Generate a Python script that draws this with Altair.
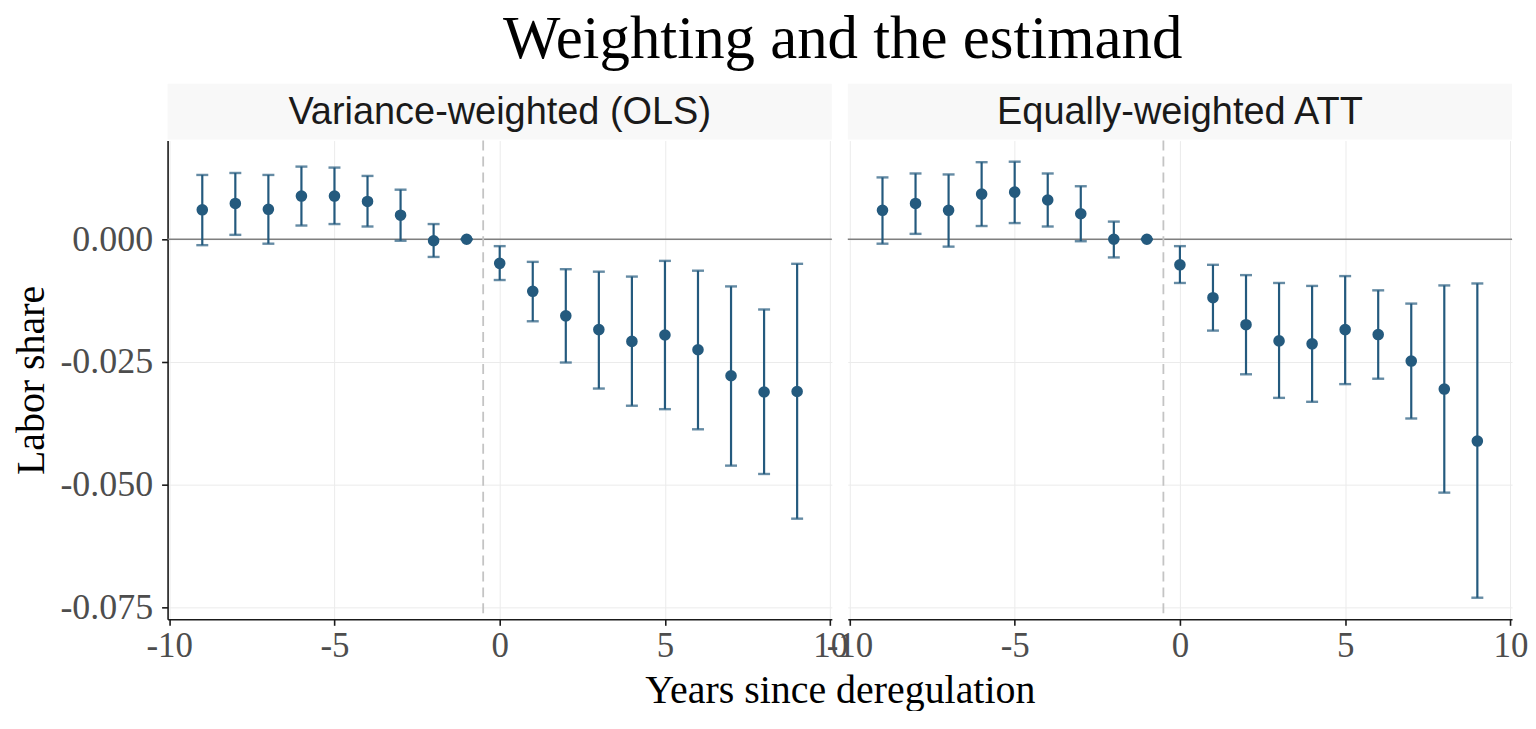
import altair as alt
import pandas as pd

# ---- data ----
years = [-9, -8, -7, -6, -5, -4, -3, -2, -1, 0, 1, 2, 3, 4, 5, 6, 7, 8, 9]

ols_est = [0.0060, 0.0073, 0.0061, 0.0088, 0.0088, 0.0077, 0.0049, -0.0003, 0.0,
           -0.0049, -0.0106, -0.0156, -0.0184, -0.0208, -0.0195, -0.0225, -0.0278, -0.0311, -0.0310]
ols_lo = [-0.0012, 0.0009, -0.0009, 0.0028, 0.0031, 0.0026, -0.0003, -0.0036, 0.0,
          -0.0083, -0.0167, -0.0251, -0.0304, -0.0339, -0.0346, -0.0387, -0.0461, -0.0478, -0.0569]
ols_hi = [0.0131, 0.0135, 0.0131, 0.0148, 0.0146, 0.0129, 0.0101, 0.0031, 0.0,
          -0.0014, -0.0046, -0.0061, -0.0066, -0.0076, -0.0044, -0.0064, -0.0096, -0.0143, -0.0050]

att_est = [0.0059, 0.0073, 0.0059, 0.0092, 0.0096, 0.0080, 0.0052, 0.0, 0.0,
           -0.0052, -0.0119, -0.0174, -0.0207, -0.0213, -0.0184, -0.0194, -0.0248, -0.0305, -0.0411]
att_lo = [-0.0009, 0.0011, -0.0015, 0.0027, 0.0033, 0.0026, -0.0004, -0.0037, 0.0,
          -0.0089, -0.0186, -0.0275, -0.0323, -0.0331, -0.0295, -0.0284, -0.0365, -0.0516, -0.0730]
att_hi = [0.0126, 0.0134, 0.0132, 0.0157, 0.0158, 0.0134, 0.0108, 0.0036, 0.0,
          -0.0014, -0.0052, -0.0073, -0.0089, -0.0095, -0.0075, -0.0104, -0.0131, -0.0094, -0.0090]

panel_names = ["Variance-weighted (OLS)", "Equally-weighted ATT"]
x_ticks = [-10, -5, 0, 5, 10]
y_ticks = [0.0, -0.025, -0.05, -0.075]
zero_line = [0.0]
treat_line = [-0.5]

# ---- style ----
W, H, STRIP_H = 666, 480, 56
GAP = 16
COLOR = "#245A7E"
SERIF = "Liberation Serif"
SANS = "Liberation Sans"
XDOM = [-10.05, 10.05]
YDOM = [-0.0774, 0.0201]
MINUS_FIX = "replace(datum.label, '\u2212', '-')"


def x_axis(first):
    common = dict(
        values=x_ticks, format="d", labelExpr=MINUS_FIX,
        grid=True, gridColor="#EBEBEB", gridWidth=1,
        domain=True, domainColor="#1A1A1A", domainWidth=1.6,
        ticks=True, tickColor="#1A1A1A", tickSize=6, tickWidth=1.6,
        labelFont=SERIF, labelFontSize=35, labelColor="#4D4D4D", labelPadding=3,
        labelFlush=False, labelOverlap=False,
    )
    if first:
        return alt.Axis(
            title="Years since deregulation", titleFont=SERIF, titleFontSize=40,
            titleFontWeight="normal", titleColor="#000000",
            titleX=W + GAP / 2, titleY=83, titleBaseline="alphabetic", titleAlign="center",
            **common,
        )
    return alt.Axis(title=None, **common)


def y_axis(first):
    if first:
        return alt.Axis(
            values=y_ticks, format=".3f", labelExpr=MINUS_FIX,
            grid=True, gridColor="#EBEBEB", gridWidth=1,
            domain=True, domainColor="#1A1A1A", domainWidth=1.6,
            ticks=True, tickColor="#1A1A1A", tickSize=6, tickWidth=1.6,
            labelFont=SERIF, labelFontSize=36, labelColor="#4D4D4D", labelPadding=9,
            title="Labor share", titleFont=SERIF, titleFontSize=40, titleFontWeight="normal",
            titleColor="#000000", titleAngle=-90, titleX=-124, titleY=H / 2,
            titleBaseline="alphabetic", titleAlign="center",
        )
    return alt.Axis(
        values=y_ticks, grid=True, gridColor="#EBEBEB", gridWidth=1,
        domain=False, ticks=False, labels=False, title=None,
    )


def x_enc(field, first):
    return alt.X(field, scale=alt.Scale(domain=XDOM, nice=False, zero=False), axis=x_axis(first))


def y_enc(field, first):
    return alt.Y(field, scale=alt.Scale(domain=YDOM, nice=False, zero=False), axis=y_axis(first))


def panel(name, est, lo, hi, first):
    df = pd.DataFrame({"x": years, "est": est, "lo": lo, "hi": hi})
    base = alt.Chart(df)
    hline = alt.Chart(pd.DataFrame({"y": zero_line})).mark_rule(
        color="#7F7F7F", strokeWidth=1.6
    ).encode(y=y_enc("y:Q", first))
    vline = alt.Chart(pd.DataFrame({"x": treat_line})).mark_rule(
        color="#C4C4C4", strokeWidth=1.8, strokeDash=[10, 6]
    ).encode(x=x_enc("x:Q", first))
    bars = base.mark_rule(color=COLOR, strokeWidth=2.2).encode(
        x=x_enc("x:Q", first), y=y_enc("lo:Q", first), y2="hi:Q"
    )
    cap_lo = base.mark_tick(color=COLOR, orient="horizontal", size=12, thickness=2.4).encode(
        x=x_enc("x:Q", first), y=y_enc("lo:Q", first)
    )
    cap_hi = base.mark_tick(color=COLOR, orient="horizontal", size=12, thickness=2.4).encode(
        x=x_enc("x:Q", first), y=y_enc("hi:Q", first)
    )
    pts = base.mark_circle(color=COLOR, opacity=1, size=135).encode(
        x=x_enc("x:Q", first), y=y_enc("est:Q", first)
    )
    lab = pd.DataFrame({"label": [name]})
    strip_bg = alt.Chart(lab).mark_rect(color="#F8F8F8").encode(
        x=alt.value(0), x2=alt.value(W), y=alt.value(-STRIP_H - 1), y2=alt.value(-1)
    )
    strip_tx = alt.Chart(lab).mark_text(
        font=SANS, fontSize=38, color="#1A1A1A", baseline="middle", align="center"
    ).encode(text="label:N", x=alt.value(W / 2), y=alt.value(-STRIP_H / 2))
    return alt.layer(hline, vline, bars, cap_lo, cap_hi, pts, strip_bg, strip_tx).properties(
        width=W, height=H
    )


left = panel(panel_names[0], ols_est, ols_lo, ols_hi, True)
right = panel(panel_names[1], att_est, att_lo, att_hi, False)

chart = alt.hconcat(left, right, spacing=GAP, bounds="flush").resolve_scale(
    x="independent", y="independent"
).properties(
    title=alt.TitleParams(
        "Weighting and the estimand", font=SERIF, fontSize=61, fontWeight="normal",
        color="#000000", anchor="middle", offset=13, dx=73,
    ),
    padding={"left": 4, "top": 0, "right": 0, "bottom": 0},
    background="white",
).configure_view(stroke=None)

chart.save("out.html", embed_options={"renderer": "svg", "actions": False})
